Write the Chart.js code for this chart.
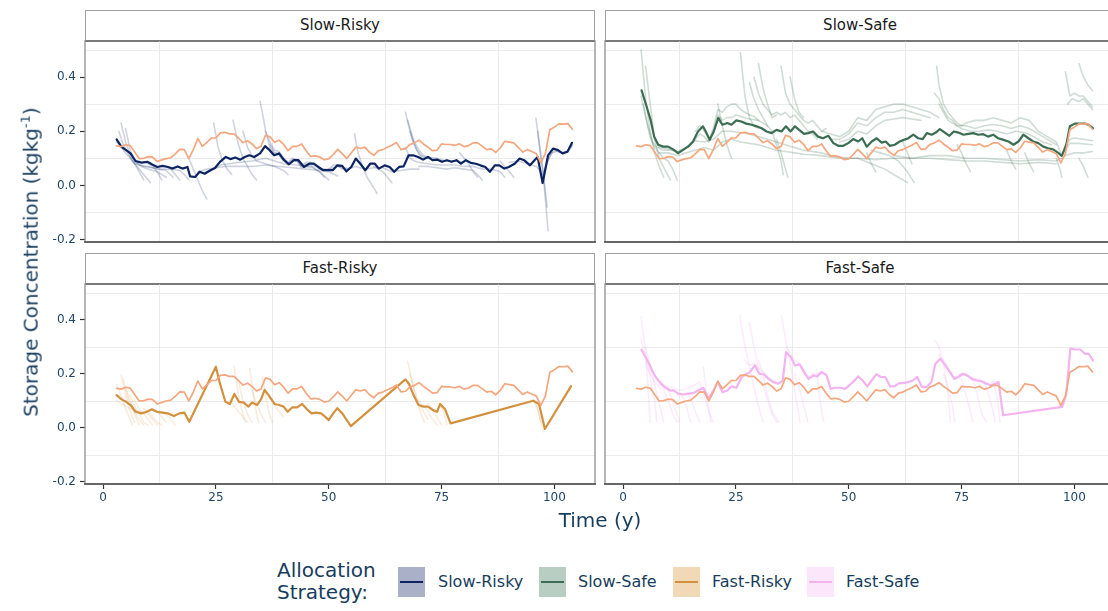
<!DOCTYPE html>
<html>
<head>
<meta charset="utf-8">
<script src="https://cdn.jsdelivr.net/npm/chart.js@4.4.1/dist/chart.umd.min.js"></script>
<style>
  html, body { margin: 0; padding: 0; background: #fff; }
  body { width: 1108px; height: 611px; overflow: hidden; position: relative; font-family: "DejaVu Sans", sans-serif; }
  canvas { position: absolute; }
  .strip { position: absolute; box-sizing: border-box; border: 1px solid #a0a0a0; border-bottom: 2px solid #555; background: #fff;
           text-align: center; font-size: 15px; color: #1a1a1a; line-height: 29px; }
  .title { position: absolute; color: #173d5d; font-size: 20px; white-space: nowrap; }
  .key { position: absolute; width: 27px; height: 30px; }
  .key i { position: absolute; left: 2px; right: 2px; top: 14px; height: 2px; }
  .klab { position: absolute; top: 572px; font-size: 16px; color: #173d5d; line-height: 20px; white-space: nowrap; }
</style>
</head>
<body>

<div class="strip" style="left:85px;top:10px;width:510px;height:32px;">Slow-Risky</div>
<div class="strip" style="left:605px;top:10px;width:510px;height:32px;">Slow-Safe</div>
<div class="strip" style="left:85px;top:253px;width:510px;height:32px;">Fast-Risky</div>
<div class="strip" style="left:605px;top:253px;width:510px;height:32px;">Fast-Safe</div>

<canvas id="pSlowRisky" width="600" height="231" style="left:0;top:26px;"></canvas>
<canvas id="pSlowSafe" width="515" height="231" style="left:600px;top:26px;"></canvas>
<canvas id="pFastRisky" width="600" height="245" style="left:0;top:269px;"></canvas>
<canvas id="pFastSafe" width="515" height="245" style="left:600px;top:269px;"></canvas>

<div class="title" style="left:30px;top:262px;transform:translate(-50%,-50%) rotate(-90deg);">Storage Concentration (kgkg<sup style="font-size:13px;">-1</sup>)</div>
<div class="title" style="left:600px;top:520px;transform:translate(-50%,-50%);">Time (y)</div>

<div class="title" style="left:277px;top:559px;line-height:22px;">Allocation<br>Strategy:</div>
<div class="key" style="left:398px;top:567px;background:#a9b0c8;"><i style="background:#0c2461;"></i></div>
<div class="klab" style="left:438px;">Slow-Risky</div>
<div class="key" style="left:539px;top:567px;background:#b9cec3;"><i style="background:#3b6d52;"></i></div>
<div class="klab" style="left:578px;">Slow-Safe</div>
<div class="key" style="left:673px;top:567px;background:#f1d9b8;"><i style="background:#d3913f;"></i></div>
<div class="klab" style="left:712px;">Fast-Risky</div>
<div class="key" style="left:807px;top:567px;background:#fbe6fb;"><i style="background:#f3b3ef;"></i></div>
<div class="klab" style="left:846px;">Fast-Safe</div>

<script>
// ---- axis settings ----
const xTickValues = [0, 25, 50, 75, 100];
const yTickValues = [-0.2, 0, 0.2, 0.4];
const xMinorGrid = [12.5, 37.5, 62.5, 87.5];
const yMinorGrid = [-0.1, 0.1, 0.3, 0.5];

// ---- shared baseline series (one value per year, starting in year 3) ----
const baselineFirstYear = 3;
const baselineValues = [
  0.146, 0.143, 0.150, 0.147, 0.123, 0.099, 0.100, 0.106, 0.104, 0.088,
  0.094, 0.099, 0.102, 0.116, 0.133, 0.132, 0.099, 0.132, 0.173, 0.144,
  0.159, 0.175, 0.175, 0.194, 0.196, 0.190, 0.190, 0.175, 0.158, 0.165,
  0.153, 0.136, 0.144, 0.185, 0.179, 0.159, 0.167, 0.151, 0.128, 0.144,
  0.144, 0.153, 0.128, 0.107, 0.109, 0.105, 0.095, 0.098, 0.114, 0.133,
  0.117, 0.099, 0.120, 0.141, 0.136, 0.141, 0.123, 0.111, 0.128, 0.132,
  0.141, 0.148, 0.158, 0.133, 0.135, 0.151, 0.157, 0.167, 0.153, 0.141,
  0.128, 0.130, 0.153, 0.151, 0.151, 0.148, 0.153, 0.143, 0.147, 0.157,
  0.157, 0.145, 0.132, 0.135, 0.122, 0.138, 0.163, 0.160, 0.157, 0.140,
  0.123, 0.132, 0.125, 0.117, 0.083, 0.117, 0.206, 0.215, 0.227, 0.226,
  0.228, 0.207
];

// ---- strategy means: [year, concentration] ----
const slowRiskyMean = [[3,0.17],[4.1,0.142],[5.1,0.13],[6.1,0.118],[7.2,0.09],[8.5,0.084],[9.8,0.087],[10.9,0.077],[12,0.068],[13.2,0.072],[14.4,0.068],[15.4,0.062],[16.5,0.07],[17.6,0.062],[18.7,0.068],[19.3,0.033],[20.4,0.031],[21.4,0.05],[22.5,0.043],[23.8,0.056],[24.8,0.064],[25.9,0.087],[27.2,0.105],[28.2,0.097],[29.3,0.103],[30.4,0.095],[31.4,0.105],[32.4,0.111],[33.5,0.105],[34.8,0.118],[35.9,0.145],[36.9,0.13],[37.9,0.111],[39,0.118],[40,0.095],[41.2,0.078],[42.3,0.093],[43.3,0.093],[44.5,0.068],[45.7,0.08],[46.7,0.08],[47.7,0.068],[48.8,0.056],[49.9,0.056],[50.9,0.056],[51.9,0.074],[53,0.072],[53.9,0.052],[55,0.068],[56,0.099],[57,0.08],[58.1,0.056],[59.2,0.08],[60.2,0.08],[61.1,0.062],[62.4,0.074],[63.5,0.068],[64.5,0.05],[65.6,0.068],[66.6,0.07],[67.7,0.111],[68.7,0.111],[69.8,0.105],[70.9,0.095],[72,0.105],[73,0.093],[74.1,0.095],[75.1,0.087],[76.2,0.093],[77.2,0.087],[78.3,0.093],[79.3,0.08],[80.4,0.093],[81.5,0.083],[82.6,0.08],[83.6,0.074],[84.7,0.068],[85.7,0.05],[86.8,0.074],[87.8,0.074],[88.9,0.062],[89.9,0.068],[91.2,0.08],[92.3,0.099],[93.3,0.093],[94.6,0.074],[95.6,0.093],[96.3,0.105],[97.4,0.009],[98.6,0.111],[99.7,0.136],[100.8,0.13],[101.8,0.118],[102.9,0.124],[103.9,0.157]];

const slowSafeMean = [[4.1,0.351],[5.2,0.292],[6.1,0.242],[6.9,0.18],[7.8,0.15],[8.9,0.143],[10,0.143],[11.1,0.133],[12.2,0.119],[13.3,0.131],[14.4,0.143],[15.5,0.162],[16.6,0.199],[17.7,0.218],[18.5,0.193],[19.2,0.168],[20.1,0.199],[21.1,0.249],[22,0.224],[23.1,0.23],[24,0.224],[25.1,0.24],[26.2,0.236],[27.3,0.228],[28.5,0.224],[29.6,0.218],[30.7,0.211],[31.8,0.199],[32.9,0.193],[34,0.205],[35.1,0.199],[36.1,0.218],[37.1,0.199],[38.1,0.218],[39,0.205],[40.1,0.19],[41,0.193],[42.1,0.199],[43.2,0.18],[44.3,0.174],[45.5,0.183],[46.6,0.156],[47.7,0.146],[48.8,0.146],[49.9,0.156],[51,0.171],[52.1,0.162],[53,0.174],[54,0.143],[55.1,0.162],[56.2,0.174],[57.3,0.158],[58.2,0.162],[59.1,0.146],[60.2,0.15],[61.3,0.162],[62.2,0.168],[63.2,0.174],[64.3,0.187],[65.4,0.174],[66.4,0.171],[67.3,0.193],[68.4,0.187],[69.3,0.195],[70.2,0.208],[71.3,0.195],[72.3,0.183],[73.3,0.199],[74.3,0.195],[75.4,0.187],[76.5,0.19],[77.6,0.193],[78.7,0.187],[79.8,0.189],[80.9,0.18],[82,0.187],[83.1,0.174],[84.3,0.168],[85.4,0.162],[86.5,0.15],[87.6,0.162],[88.7,0.187],[89.8,0.174],[90.9,0.162],[92,0.156],[93.1,0.143],[94.2,0.137],[95.3,0.133],[96.5,0.119],[97.2,0.109],[98.2,0.15],[99,0.218],[100.1,0.228],[101.3,0.228],[102.4,0.228],[103.1,0.224],[104.1,0.211]];

const fastRiskyMean = [[3,0.121],[4.1,0.105],[5.1,0.096],[6.1,0.084],[7.2,0.059],[8.5,0.053],[9.7,0.059],[10.8,0.068],[11.9,0.059],[13.1,0.056],[14.4,0.053],[15.7,0.043],[16.9,0.053],[18,0.056],[19.1,0.022],[25,0.226],[25.8,0.17],[27.1,0.096],[28.1,0.088],[29.1,0.125],[30.1,0.096],[31.2,0.093],[32.2,0.078],[33,0.093],[34.1,0.084],[35,0.105],[35.8,0.14],[36.9,0.115],[38,0.088],[39,0.084],[40,0.078],[40.9,0.059],[41.9,0.075],[43,0.075],[44.1,0.088],[45.2,0.068],[46.2,0.053],[47.2,0.056],[48.3,0.053],[49.2,0.041],[50,0.028],[51,0.053],[51.9,0.072],[53,0.053],[54.9,0.006],[67,0.179],[67.8,0.162],[68.8,0.121],[69.9,0.084],[71,0.078],[72,0.078],[73.1,0.065],[74,0.059],[74.7,0.088],[75.8,0.068],[77,0.016],[95.3,0.1],[96.6,0.088],[97.9,-0.005],[103.7,0.154]];

const fastSafeMean = [[4.1,0.289],[5.2,0.256],[6.1,0.225],[7,0.194],[8.1,0.169],[9.2,0.151],[10.4,0.138],[11.2,0.138],[12.2,0.126],[13.3,0.123],[14.4,0.126],[15.5,0.128],[16.6,0.138],[17.8,0.148],[18.9,0.107],[20,0.138],[21,0.169],[22,0.132],[23.1,0.138],[24,0.153],[25.1,0.148],[26.3,0.188],[27.4,0.2],[28.1,0.206],[29.2,0.231],[30.2,0.2],[31.2,0.198],[32.2,0.181],[33.3,0.169],[34.4,0.163],[35.4,0.175],[36.1,0.28],[37.1,0.264],[38.1,0.231],[39.1,0.235],[40.1,0.206],[41.1,0.181],[42.2,0.194],[43,0.19],[44,0.206],[45.1,0.194],[46,0.144],[47.1,0.148],[48.1,0.148],[49.2,0.144],[50.1,0.157],[51.2,0.173],[52.1,0.19],[53.1,0.175],[54.1,0.153],[55.1,0.175],[56.1,0.198],[57.1,0.188],[58.1,0.188],[59.2,0.153],[60.1,0.153],[61.2,0.165],[62.1,0.165],[63.2,0.169],[64.2,0.175],[65.2,0.188],[66.2,0.151],[67.3,0.151],[68.3,0.169],[69.2,0.237],[70.3,0.256],[71.4,0.231],[72.3,0.21],[73.4,0.181],[74.3,0.188],[75.3,0.2],[76.2,0.194],[77.3,0.181],[78.4,0.175],[79.4,0.172],[80.5,0.163],[81.4,0.157],[82.5,0.163],[83.2,0.169],[84.2,0.046],[97.3,0.077],[98.2,0.123],[99.1,0.293],[100.2,0.29],[101.3,0.29],[102.4,0.274],[103.2,0.274],[104.1,0.249]];

// ---- individual simulation runs: each a list of [year, concentration] ----
const slowRiskyRuns = [
  [[3.5,0.2],[4.5,0.15],[5.5,0.12],[6.5,0.09],[8,0.06],[9.5,0.03],[10.5,0.01]],
  [[4,0.23],[5,0.16],[6,0.11],[7,0.08],[8,0.05],[9,0.02]],
  [[5,0.21],[6,0.13],[7,0.09],[8.5,0.07],[10,0.06],[12,0.05],[13,0.02]],
  [[3,0.16],[4,0.14],[5,0.12],[6,0.1],[7,0.08],[8,0.075],[10,0.07],[12,0.06],[14,0.055],[15.5,0.03]],
  [[6,0.12],[7,0.09],[8,0.075],[9,0.07],[11,0.065],[13,0.06],[15,0.06],[17,0.055],[18,0.04],[19,0.02]],
  [[10,0.08],[11,0.07],[12,0.05],[13,0.04],[14,0.03]],
  [[14,0.07],[15,0.06],[16,0.04],[17,0.02]],
  [[19,0.1],[20,0.06],[21,0.02],[22,-0.02],[23,-0.05]],
  [[24.5,0.23],[25.5,0.14],[26.5,0.09],[27.5,0.06],[28.5,0.04]],
  [[21,0.05],[23,0.06],[25,0.065],[27,0.07],[30,0.07],[33,0.07],[36,0.075],[39,0.07],[42,0.065],[45,0.06],[48,0.055],[50,0.05],[52,0.035]],
  [[22,0.045],[24,0.055],[26,0.075],[28,0.08],[30,0.085],[33,0.09],[36,0.1],[38,0.09],[40,0.08],[43,0.075],[46,0.07],[48,0.05],[49,0.03]],
  [[28.8,0.24],[30,0.15],[31,0.1],[32,0.07],[33,0.04],[34,0.02]],
  [[31,0.2],[32,0.14],[33,0.11],[34,0.09],[36,0.08],[38,0.07],[40,0.055],[41,0.04]],
  [[34.8,0.31],[35.5,0.25],[36,0.2],[37,0.14],[38,0.115],[39,0.11],[40,0.09],[41,0.075],[42,0.09],[43,0.09],[44,0.065],[45,0.07],[46,0.065]],
  [[36,0.2],[37,0.16],[38,0.13],[39,0.125],[40,0.1],[41,0.085],[42,0.1],[43,0.095],[44,0.075],[45,0.085],[46,0.085],[47,0.07],[48,0.06],[49,0.06],[50,0.06],[51,0.075],[52,0.075],[53,0.06],[54,0.065]],
  [[37,0.15],[38,0.12],[39,0.12],[40,0.1],[41,0.08],[42,0.095],[43,0.09],[44,0.07],[45,0.08],[46,0.075],[47,0.06],[48,0.05],[49,0.035],[50,0.02]],
  [[50,0.06],[52,0.07],[54,0.06],[56,0.07],[58,0.06],[60,0.065],[62,0.065],[64,0.05],[66,0.055],[68,0.06],[70,0.06]],
  [[55.7,0.19],[56.5,0.12],[57.5,0.07],[58.5,0.03],[60,-0.01],[60.7,-0.03]],
  [[60,0.07],[61,0.06],[62,0.05],[63,0.03],[64,0.01]],
  [[67,0.27],[67.7,0.22],[68.5,0.17],[69.5,0.13],[70.5,0.11],[72,0.1],[73,0.095]],
  [[67.5,0.24],[68.2,0.2],[69,0.16],[70,0.13],[71,0.11],[72,0.105],[74,0.1],[76,0.09],[78,0.09],[80,0.085]],
  [[68,0.2],[69,0.15],[70,0.115],[71,0.1],[72,0.1]],
  [[66,0.13],[67,0.14],[68,0.1],[69,0.09],[70,0.085],[72,0.08],[74,0.075],[76,0.075],[78,0.075],[80,0.07],[82,0.07],[84,0.06],[86,0.06],[88,0.05],[89,0.03]],
  [[70,0.07],[72,0.07],[74,0.065],[76,0.06],[78,0.065],[80,0.06],[82,0.055],[83,0.04],[84,0.02]],
  [[79,0.12],[80,0.1],[81,0.08],[82,0.05],[83,0.03]],
  [[88,0.09],[89,0.07],[90,0.05],[91,0.03]],
  [[90,0.085],[92,0.09],[94,0.08],[96,0.07],[97,0.05]],
  [[95.9,0.248],[96.7,0.15],[97.4,0.068],[98,-0.05],[98.6,-0.167]],
  [[96.3,0.2],[97,0.1],[97.7,0.02],[98.4,-0.08]],
  [[97.5,0.04],[98.5,0.09],[99.5,0.12],[100.5,0.125],[102,0.12],[103,0.125],[104,0.145]],
  [[98,0.06],[99,0.11],[100,0.13],[101,0.125],[102,0.12],[103,0.13],[104,0.15]]
];

const slowSafeRuns = [
  [[4,0.5],[5,0.32],[6,0.2],[7,0.12],[8,0.07],[9,0.03]],
  [[5,0.44],[6,0.3],[7,0.17],[8,0.1],[9.5,0.05],[10.5,0.02]],
  [[4,0.33],[5,0.25],[6,0.18],[7,0.14],[8,0.12],[9,0.1],[10,0.09],[11,0.06],[12,0.02]],
  [[4.5,0.3],[5.5,0.22],[6.5,0.16],[7.5,0.14],[9,0.13],[11,0.13],[12,0.12],[13,0.13],[14,0.14],[15,0.15],[16,0.17],[17,0.19],[18,0.18],[19,0.16],[20,0.2],[21,0.26],[22,0.24],[23,0.25],[24,0.25],[25,0.26],[26,0.255],[27,0.25],[28,0.245],[30,0.24],[32,0.22]],
  [[6,0.25],[7,0.17],[8,0.14],[10,0.135],[12,0.125],[14,0.14],[16,0.165],[18,0.16],[20,0.17],[22,0.2],[24,0.2],[26,0.195],[28,0.19],[30,0.18],[32,0.17],[34,0.16],[36,0.15],[38,0.14],[40,0.13],[42,0.125],[44,0.12],[46,0.11],[48,0.105],[50,0.1],[52,0.1]],
  [[8,0.12],[10,0.12],[12,0.11],[14,0.12],[16,0.13],[18,0.14],[20,0.13],[22,0.16],[24,0.17],[26,0.16],[28,0.155],[30,0.15],[32,0.14],[34,0.13],[36,0.125],[38,0.12],[40,0.115],[44,0.11],[48,0.1],[52,0.1],[56,0.095],[60,0.1],[64,0.1],[68,0.11],[72,0.11],[76,0.1],[80,0.1],[84,0.095],[88,0.09],[92,0.095],[96,0.09],[97,0.1]],
  [[16,0.2],[17,0.22],[18,0.2],[19,0.17],[20,0.21],[21,0.28],[22,0.27],[23,0.29],[24,0.3],[25,0.3],[26,0.28],[27,0.27],[28,0.26],[29,0.255],[30,0.24]],
  [[21,0.3],[22,0.22],[23,0.15],[24,0.1]],
  [[26,0.49],[27,0.33],[28,0.25],[29,0.22],[30,0.21]],
  [[28,0.38],[29,0.32],[30,0.28],[31,0.25],[32,0.22],[33,0.2]],
  [[29,0.4],[30,0.34],[31,0.3],[32,0.28],[33,0.26],[34,0.27],[35,0.26],[36,0.27],[37,0.25],[38,0.26],[39,0.24],[40,0.22],[41,0.2],[42,0.19],[43,0.17]],
  [[30,0.45],[31,0.36],[32,0.3],[33,0.25],[34,0.26]],
  [[35,0.44],[36,0.34],[37,0.3],[38,0.28],[39,0.26],[40,0.24],[41,0.23],[42,0.24],[43,0.22],[44,0.2],[45,0.21]],
  [[37,0.4],[38,0.32],[39,0.27],[40,0.25]],
  [[34,0.17],[35,0.12],[36,0.06],[36.5,0.03]],
  [[33,0.2],[34,0.15],[35,0.09],[35.5,0.04]],
  [[44,0.2],[46,0.19],[48,0.18],[50,0.2],[52,0.25],[54,0.24],[56,0.28],[58,0.29],[60,0.3],[62,0.3],[64,0.29],[66,0.28],[68,0.27],[70,0.25]],
  [[46,0.17],[48,0.17],[50,0.19],[52,0.23],[54,0.22],[56,0.25],[58,0.27],[60,0.27],[62,0.28],[64,0.27],[66,0.26],[68,0.25]],
  [[48,0.16],[50,0.17],[52,0.2],[54,0.19],[56,0.22],[58,0.24],[60,0.245],[62,0.25],[64,0.245],[66,0.24]],
  [[55,0.13],[57,0.12],[59,0.11],[61,0.09],[63,0.05],[64.5,0.01]],
  [[52,0.1],[55,0.08],[58,0.06],[61,0.03],[63,0.01]],
  [[54,0.12],[55,0.08],[56,0.05]],
  [[69.5,0.44],[70,0.37],[71,0.3],[72,0.27],[73,0.25],[74,0.23],[75,0.22],[76,0.23],[78,0.24],[80,0.24],[82,0.25],[84,0.24],[86,0.23],[88,0.25],[90,0.24],[92,0.2],[94,0.18],[96,0.16],[97,0.12]],
  [[69,0.34],[70,0.32],[71,0.28],[72,0.25],[73,0.24],[74,0.22],[76,0.22],[78,0.21],[80,0.22],[82,0.225],[84,0.22],[86,0.21],[88,0.22],[90,0.21],[92,0.19],[94,0.17],[96,0.15]],
  [[70,0.3],[71,0.27],[72,0.24],[73,0.23],[75,0.21],[77,0.2],[79,0.2],[81,0.205],[83,0.2],[85,0.19],[87,0.2],[89,0.195],[91,0.18],[93,0.16],[95,0.15]],
  [[62,0.16],[63,0.12],[64,0.08]],
  [[74,0.15],[75,0.12],[76,0.08],[77,0.05]],
  [[85,0.13],[86,0.09],[87,0.06]],
  [[89,0.12],[90,0.08],[91,0.05]],
  [[60,0.11],[64,0.1],[68,0.1],[72,0.095],[76,0.09],[80,0.09],[84,0.085],[88,0.08],[92,0.085],[96,0.08]],
  [[98,0.42],[99,0.33],[100,0.34],[101,0.33],[102,0.33],[103,0.31],[104,0.29]],
  [[101,0.45],[102,0.4],[103,0.37],[104,0.35]],
  [[98.5,0.3],[99.5,0.32],[101,0.31],[102,0.32],[103,0.3],[104,0.28]],
  [[97.2,0.11],[98,0.14],[99,0.17],[100,0.175],[102,0.17],[104,0.165]],
  [[97.2,0.11],[98,0.13],[99,0.155],[101,0.155],[104,0.15]],
  [[97.2,0.1],[98,0.11],[100,0.12],[102,0.12],[104,0.125]],
  [[96,0.1],[96.8,0.06],[97.2,0.03]],
  [[101,0.1],[102,0.07],[103,0.03]]
];

const fastRiskyRuns = [
  [[3,0.16],[4,0.12],[5,0.07],[6,0.03],[6.5,0.01]],
  [[4,0.195],[5,0.12],[6,0.06],[7,0.02]],
  [[4.5,0.18],[5.5,0.11],[6.5,0.07],[7.5,0.03],[8,0.01]],
  [[5,0.15],[6,0.1],[7,0.06],[8,0.03],[9,0.01]],
  [[6,0.12],[7,0.08],[8,0.05],[9,0.02],[10,0.01]],
  [[3,0.1],[4,0.09],[5,0.08],[6,0.07],[7,0.065],[8,0.06],[10,0.05],[11,0.03],[12,0.01]],
  [[7,0.1],[8,0.07],[9,0.05],[10,0.03],[11,0.01]],
  [[9,0.07],[10,0.06],[11,0.04],[12,0.02],[13,0.01]],
  [[11,0.07],[12,0.06],[13,0.04],[14,0.02]],
  [[13,0.06],[14,0.05],[15,0.03],[16,0.01]],
  [[29,0.23],[30,0.12],[31,0.05],[31.5,0.02]],
  [[30,0.17],[31,0.1],[32,0.05],[33,0.02]],
  [[32.5,0.22],[33.3,0.12],[34,0.05],[34.5,0.02]],
  [[33,0.14],[34,0.09],[35,0.05],[36,0.02]],
  [[35.3,0.19],[36,0.12],[36.7,0.06],[37.5,0.02]],
  [[28,0.1],[29,0.08],[30,0.06],[31,0.04],[32,0.02]],
  [[37,0.11],[38,0.08],[39,0.06],[40,0.04]],
  [[67.5,0.245],[68.5,0.17],[69.5,0.1],[70.5,0.05],[71.2,0.02]],
  [[68,0.2],[69,0.14],[70,0.09],[71,0.06],[72,0.03]],
  [[70,0.1],[71,0.08],[72,0.06],[73,0.03],[74,0.01]],
  [[72,0.09],[73,0.07],[74,0.04],[75,0.01]],
  [[74.5,0.09],[75.5,0.06],[76.2,0.01]],
  [[95.5,0.1],[96.5,0.06],[97.2,0.01],[97.6,-0.015]],
  [[96,0.09],[97,0.02]]
];

const fastSafeRuns = [
  [[4,0.41],[5,0.28],[5.5,0.15],[6,0.02]],
  [[4,0.33],[5,0.26],[6,0.19],[7,0.1],[7.5,0.02]],
  [[5,0.3],[6,0.23],[7,0.16],[8,0.09],[9,0.02]],
  [[5,0.24],[6,0.2],[7,0.17],[8,0.15],[9,0.14],[10,0.1],[11,0.05],[12,0.02]],
  [[6,0.22],[7,0.19],[8,0.17],[9,0.16],[10,0.15],[11,0.15],[12,0.14],[13,0.14],[14,0.145],[15,0.15],[16,0.16],[17,0.17],[18,0.12],[19,0.06],[20,0.02]],
  [[8,0.16],[9,0.15],[10,0.14],[11,0.1],[12,0.05],[12.5,0.02]],
  [[12,0.13],[13,0.12],[14,0.08],[15,0.02]],
  [[14,0.13],[15,0.11],[16,0.06],[17,0.02]],
  [[17.8,0.225],[18.5,0.13],[19,0.07],[19.5,0.02]],
  [[25.9,0.416],[27,0.3],[28,0.23],[29,0.15],[30,0.08],[31,0.02]],
  [[28,0.39],[29,0.3],[30,0.22],[31,0.16],[32,0.1],[33,0.05],[34,0.02]],
  [[27,0.25],[28,0.23],[29,0.24],[30,0.22],[31,0.21],[32,0.19],[33,0.18],[34,0.17]],
  [[30,0.25],[31,0.2],[32,0.12],[33,0.06],[34.5,0.02]],
  [[35.1,0.416],[36,0.33],[37,0.24],[38,0.14],[39.2,0.02]],
  [[36,0.3],[37,0.28],[38,0.25],[39,0.24],[40,0.22],[41,0.19],[42,0.2],[43,0.2],[44,0.21],[45,0.2],[46,0.15]],
  [[38,0.2],[39,0.15],[40,0.08],[41,0.02]],
  [[43,0.2],[43.5,0.12],[44,0.06],[44.5,0.02]],
  [[69.2,0.323],[70,0.3],[71,0.24],[72,0.13],[72.5,0.02]],
  [[70,0.27],[71,0.25],[72,0.22],[73,0.19],[74,0.19],[75,0.2],[76,0.2],[77,0.19],[78,0.18],[79,0.18],[80,0.17],[81,0.165],[82,0.17],[83,0.17]],
  [[71,0.2],[72,0.15],[73,0.08],[73.5,0.02]],
  [[75,0.18],[76,0.12],[77,0.06],[77.5,0.02]],
  [[77.5,0.18],[78.5,0.12],[79.5,0.05],[80.5,0.02]],
  [[80,0.17],[81,0.12],[82,0.06],[82.5,0.02]],
  [[82,0.17],[83,0.1],[83.5,0.02]]
];

// ---- drawing ----
const FONT = 'DejaVu Sans';
const tickColor = '#1f4668';
const baselineColor = '#f4a77e';

const toPoints = pairs => pairs.map(([x, y]) => ({ x, y }));
const baselinePoints = baselineValues.map((v, i) => ({ x: baselineFirstYear + i, y: v }));

// minor grid behind the lines, frame on top
const panelFrame = {
  id: 'panelFrame',
  beforeDatasetsDraw(chart) {
    const { ctx, chartArea: a, scales: { x, y } } = chart;
    ctx.save();
    ctx.strokeStyle = '#ebebeb';
    ctx.lineWidth = 1;
    ctx.beginPath();
    xMinorGrid.forEach(v => { const p = Math.round(x.getPixelForValue(v)) + 0.5; ctx.moveTo(p, a.top); ctx.lineTo(p, a.bottom); });
    yMinorGrid.forEach(v => { const p = Math.round(y.getPixelForValue(v)) + 0.5; ctx.moveTo(a.left, p); ctx.lineTo(a.right, p); });
    ctx.stroke();
    ctx.restore();
  },
  afterDatasetsDraw(chart) {
    const { ctx, chartArea: a } = chart;
    ctx.save();
    ctx.strokeStyle = '#8e8e8e';
    ctx.lineWidth = 1.3;
    ctx.strokeRect(a.left, a.top, a.right - a.left, a.bottom - a.top);
    ctx.strokeStyle = '#4d4d4d';
    ctx.lineWidth = 1.4;
    ctx.beginPath();
    ctx.moveTo(a.left - 1, a.bottom);
    ctx.lineTo(a.right + 1, a.bottom);
    ctx.stroke();
    ctx.restore();
  }
};

function makeScales(showX, showY) {
  const tickFont = { family: FONT, size: 12 };
  return {
    x: {
      type: 'linear', min: -4, max: 109, display: showX,
      afterBuildTicks: s => { s.ticks = xTickValues.map(v => ({ value: v })); },
      afterFit: s => { if (showX) s.height = 30; },
      grid: { drawOnChartArea: false, drawTicks: true, tickLength: 5, tickColor: '#333', tickWidth: 1.2 },
      border: { display: false },
      ticks: { color: tickColor, font: tickFont, padding: 2, maxRotation: 0, autoSkip: false, callback: v => String(v) }
    },
    y: {
      type: 'linear', min: -0.209, max: 0.533, display: showY,
      afterBuildTicks: s => { s.ticks = yTickValues.map(v => ({ value: v })); },
      afterFit: s => { if (showY) s.width = 85; },
      grid: { drawOnChartArea: false, drawTicks: true, tickLength: 5, tickColor: '#333', tickWidth: 1.2 },
      border: { display: false },
      ticks: { color: tickColor, font: tickFont, padding: 4, autoSkip: false, callback: v => v.toFixed(1) }
    }
  };
}

function makePanel(id, mean, runs, meanColor, runColor, showX, showY) {
  const datasets = [];
  datasets.push({ data: baselinePoints, borderColor: baselineColor, borderWidth: 1.7, order: 0 });
  datasets.push({ data: toPoints(mean), borderColor: meanColor, borderWidth: 2.2, order: 1 });
  runs.forEach(r => datasets.push({ data: toPoints(r), borderColor: runColor, borderWidth: 1.6, order: 2 }));
  datasets.forEach(d => {
    d.pointRadius = 0; d.tension = 0; d.fill = false;
    d.borderJoinStyle = 'round'; d.borderCapStyle = 'round';
  });

  const left = showY ? 0 : 5;
  const right = showY ? 5 : 0;
  new Chart(document.getElementById(id), {
    type: 'line',
    data: { datasets },
    options: {
      responsive: false,
      animation: false,
      devicePixelRatio: 1,
      events: [],
      layout: { padding: { top: 15, bottom: showX ? 0 : 15, left, right } },
      plugins: { legend: { display: false }, tooltip: { enabled: false } },
      scales: makeScales(showX, showY)
    },
    plugins: [panelFrame]
  });
}

makePanel('pSlowRisky', slowRiskyMean, slowRiskyRuns, '#0c2461', 'rgba(12,36,97,0.2)', false, true);
makePanel('pSlowSafe', slowSafeMean, slowSafeRuns, '#3b6d52', 'rgba(59,109,82,0.24)', false, false);
makePanel('pFastRisky', fastRiskyMean, fastRiskyRuns, '#d3913f', 'rgba(211,145,63,0.17)', true, true);
makePanel('pFastSafe', fastSafeMean, fastSafeRuns, '#f3b3ef', 'rgba(243,179,239,0.25)', true, false);
</script>
</body>
</html>
